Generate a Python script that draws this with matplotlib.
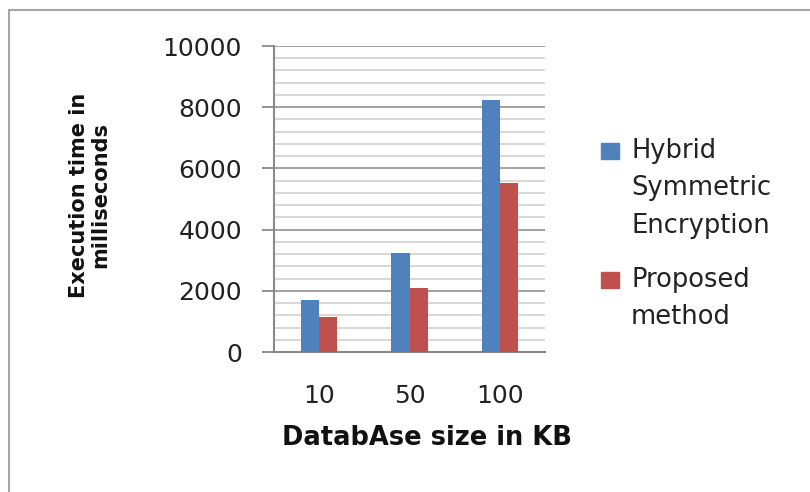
import numpy as np
import matplotlib.pyplot as plt
from matplotlib.patches import Rectangle
from matplotlib.ticker import MultipleLocator

sizes = ["10", "50", "100"]
hybrid = [1700, 3225, 8225]
proposed = [1130, 2100, 5530]
series_names = ["Hybrid\nSymmetric\nEncryption", "Proposed\nmethod"]
series_colors = ["#4F81BD", "#C0504D"]

W, H = 810, 492
fig = plt.figure(figsize=(W / 100, H / 100), dpi=100)
plt.rcParams['font.family'] = ['DejaVu Sans']

# outer chart frame (only top and left edges visible in the picture)
fig.add_artist(Rectangle((9 / W, -0.1), 1.2, (H - 9.5) / H + 0.1, transform=fig.transFigure,
                         fill=False, edgecolor="#a6a6a6", lw=1.5))

ax = fig.add_axes([274 / W, (H - 352) / H, (545 - 274) / W, (352 - 46) / H])
x = np.arange(len(sizes))
bw = 0.2
ax.bar(x - bw / 2, hybrid, bw, color=series_colors[0], zorder=3)
ax.bar(x + bw / 2, proposed, bw, color=series_colors[1], zorder=3)

ax.set_xlim(-0.5, 2.5)
ax.set_ylim(0, 10000)
ax.yaxis.set_major_locator(MultipleLocator(2000))
ax.yaxis.set_minor_locator(MultipleLocator(400))
ax.grid(axis="y", which="major", color="#9a9a9a", lw=1.3, zorder=0)
ax.grid(axis="y", which="minor", color="#d4d4d4", lw=1.3, zorder=0)
ax.set_xticks(x)
ax.set_xticklabels(sizes)
ax.tick_params(axis="x", length=0, pad=23, labelsize=18, colors="#222222")
ax.tick_params(axis="y", which="major", length=9, width=1.3, color="#8a8a8a",
               pad=14, labelsize=18, labelcolor="#222222")
ax.tick_params(axis="y", which="minor", length=0)
for s in ["top", "right"]:
    ax.spines[s].set_visible(False)
for s in ["left", "bottom"]:
    ax.spines[s].set_color("#8a8a8a")
    ax.spines[s].set_linewidth(1.5)

fig.text(427 / W, 1 - 438 / H, "DatabAse size in KB", ha="center", va="center",
         fontsize=18.5, fontweight="bold", color="#111111")
fig.text(89.5 / W, 1 - 195 / H, "Execution time in\nmilliseconds", ha="center", va="center",
         rotation=90, fontsize=15, fontweight="bold", linespacing=1.05, color="#111111")

# legend drawn by hand so the swatch sits on the first line of each label
leg_tops = [143, 272]
for name, color, top in zip(series_names, series_colors, leg_tops):
    fig.add_artist(Rectangle((601 / W, 1 - (top + 16) / H), 18 / W, 16 / H,
                             transform=fig.transFigure, color=color))
    for i, line in enumerate(name.split("\n")):
        fig.text(631 / W, 1 - (top + 8 + i * 37.5) / H, line, ha="left", va="center",
                 fontsize=18.5, color="#222222")

fig.savefig("out.png", dpi=100)
